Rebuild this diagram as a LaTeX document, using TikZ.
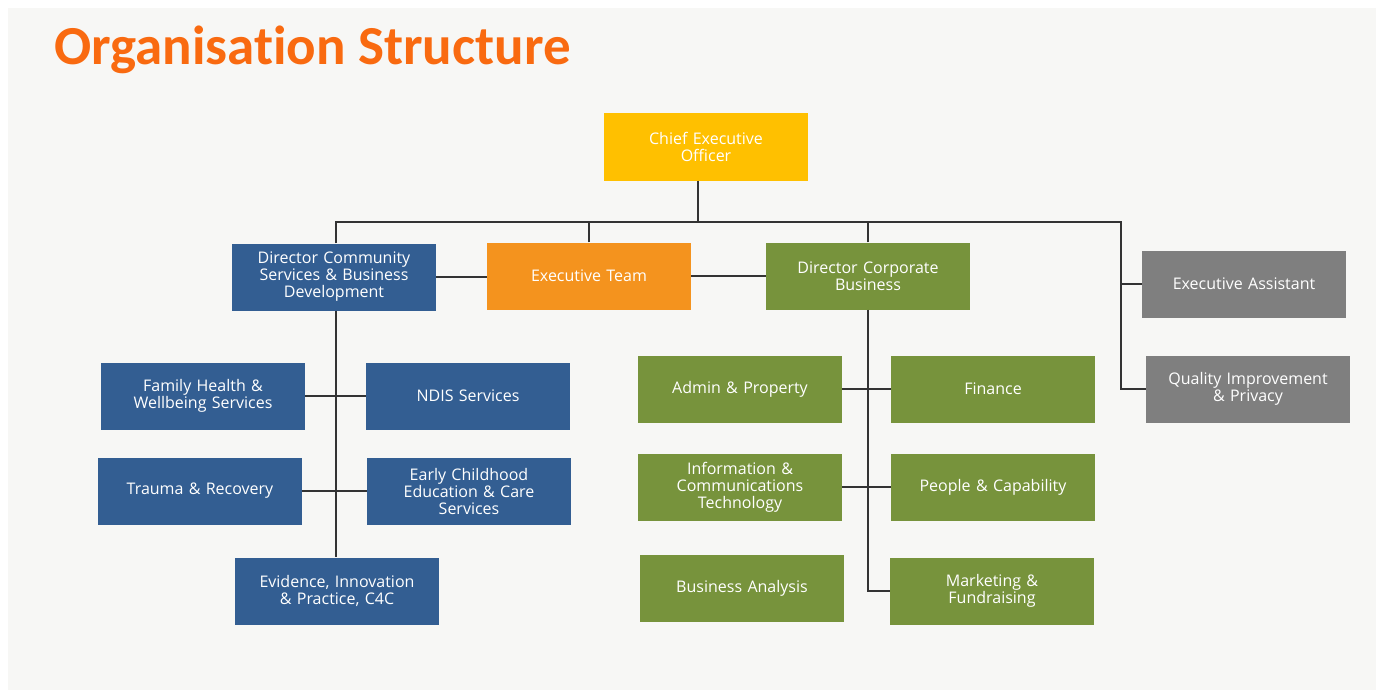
\documentclass[tikz,border=0pt]{standalone}
\usepackage{fontspec}
\setmainfont{Open Sans}
\newfontfamily\headfont{Carlito}[Ligatures=NoCommon]

\definecolor{ceogold}{HTML}{FFC000}
\definecolor{teamorange}{HTML}{F4931E}
\definecolor{commblue}{HTML}{335E92}
\definecolor{corpgreen}{HTML}{77933C}
\definecolor{officegray}{HTML}{7F7F7F}
\definecolor{titleorange}{HTML}{F96A10}
\definecolor{paper}{HTML}{F7F7F5}

\begin{document}
\begin{tikzpicture}[x=1pt,y=-1pt,
    box/.style={minimum width=204pt,minimum height=67pt,text width=200pt,
        align=center,inner sep=0pt,text=white,
        font=\fontsize{16}{17}\selectfont},
    link/.style={draw=black!80,line width=1.3pt}]
    \fill[white] (0,0) rectangle (1383,698);
    \fill[paper] (8,8) rectangle (1376,690);

    \node[anchor=west,inner sep=0pt,text=titleorange,font=\headfont\bfseries\fontsize{55}{55}\selectfont] (title) at (54,50) {Organisation Structure};

    \node[box,fill=ceogold] (CEO) at (706,147) {Chief Executive\\Officer};
    \node[box,fill=commblue] (DCS) at (334,277) {Director Community\\Services \& Business\\Development};
    \node[box,fill=teamorange] (ET) at (589,276) {Executive Team};
    \node[box,fill=corpgreen] (DCB) at (868,276) {Director Corporate\\Business};
    \node[box,fill=officegray] (EA) at (1244,284) {Executive Assistant};
    \node[box,fill=officegray] (QI) at (1248,389) {Quality Improvement\\\& Privacy};

    \node[box,fill=commblue] (FH) at (203,396) {Family Health \&\\Wellbeing Services};
    \node[box,fill=commblue] (NDIS) at (468,396) {NDIS Services};
    \node[box,fill=commblue] (TR) at (200,491) {Trauma \& Recovery};
    \node[box,fill=commblue] (EC) at (469,491) {Early Childhood\\Education \& Care\\Services};
    \node[box,fill=commblue] (EV) at (337,591) {Evidence, Innovation\\\& Practice, C4C};

    \node[box,fill=corpgreen] (AP) at (740,389) {Admin \& Property};
    \node[box,fill=corpgreen] (FIN) at (993,389) {Finance};
    \node[box,fill=corpgreen] (ICT) at (740,487) {Information \&\\Communications\\Technology};
    \node[box,fill=corpgreen] (PC) at (993,487) {People \& Capability};
    \node[box,fill=corpgreen] (BA) at (742,588) {Business Analysis};
    \node[box,fill=corpgreen] (MF) at (992,591) {Marketing \&\\Fundraising};

    \coordinate (busL) at (336,222);
    \coordinate (busR) at (1121,222);

    \draw[link] ([xshift=-8pt]CEO.south) -- ([xshift=-8pt]CEO.south |- busL);
    \draw[link] (DCS.north -| busL) -- (busL) -- (busR) |- (QI.west);
    \draw[link] (busR |- EA.west) -- (EA.west);
    \draw[link] (ET.north) -- (ET.north |- busL);
    \draw[link] (DCB.north) -- (DCB.north |- busL);
    \draw[link] (DCS.east) -- (DCS.east -| ET.west);
    \draw[link] (ET.east) -- (ET.east -| DCB.west);

    \draw[link] (DCS.south -| busL) -- (EV.north -| busL);
    \draw[link] (FH.east) -- (NDIS.west);
    \draw[link] (TR.east) -- (EC.west);

    \draw[link] (DCB.south) |- (MF.west);
    \draw[link] (AP.east) -- (FIN.west);
    \draw[link] (ICT.east) -- (PC.west);
\end{tikzpicture}
\end{document}
